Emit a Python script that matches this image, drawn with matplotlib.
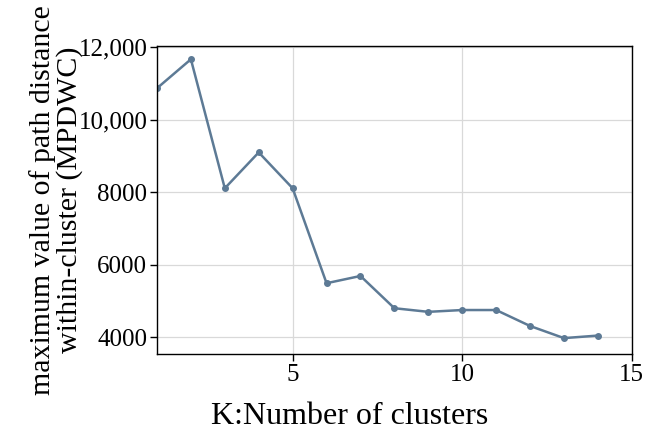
import matplotlib
matplotlib.use("Agg")
import matplotlib.pyplot as plt
from matplotlib.ticker import FuncFormatter

k = [1, 2, 3, 4, 5, 6, 7, 8, 9, 10, 11, 12, 13, 14]
mpdwc = [10870, 11670, 8110, 9100, 8110, 5490, 5690, 4800, 4700, 4750, 4750, 4310, 3975, 4045]

plt.rcParams['font.family'] = ['Liberation Serif', 'DejaVu Serif']

def fmt(v, pos):
    # comma separator only for five-digit numbers
    return f"{int(v):,}" if v >= 10000 else f"{int(v)}"

fig = plt.figure(figsize=(6.46, 4.32), dpi=100)
ax = fig.add_axes([0.243, 0.18, 0.735, 0.713])
ax.plot(k, mpdwc, '-o', color='#5d7a95', linewidth=1.8, markersize=4)
ax.set_xlim(1, 15)
ax.set_ylim(3530, 12030)
ax.set_xticks([5, 10, 15])
ax.set_yticks([4000, 6000, 8000, 10000, 12000])
ax.yaxis.set_major_formatter(FuncFormatter(fmt))
ax.grid(True, color='#d9d9d9', linewidth=0.9)
ax.set_axisbelow(True)
ax.tick_params(labelsize=18, direction='out', length=5, width=1, pad=2)
for s in ax.spines.values():
    s.set_color('black')
    s.set_linewidth(1.0)
ax.set_xlabel('K:Number of clusters', fontsize=23)
ax.xaxis.set_label_coords(0.406, -0.155)
ax.set_ylabel('maximum value of path distance\nwithin-cluster (MPDWC)', fontsize=21.5, linespacing=1.0)
ax.yaxis.set_label_coords(-0.155, 0.5)
fig.savefig('out.png', dpi=100)
